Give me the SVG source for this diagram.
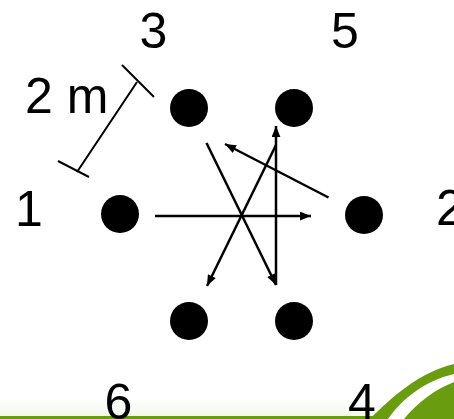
<svg xmlns="http://www.w3.org/2000/svg" width="454" height="419" viewBox="0 0 454 419">
<style>
.lbl{font-family:"Liberation Sans",Arial,sans-serif;font-size:50px;fill:#000}
.dot{fill:#000}
.edge{stroke:#000;stroke-width:2.5;fill:none}
.bar{stroke:#000;stroke-width:2;fill:none}
.grn{fill:#6a9c10}
</style>
<defs>
<marker id="ah" viewBox="0 0 10 8" refX="10" refY="4" markerWidth="11" markerHeight="9" markerUnits="userSpaceOnUse" orient="auto">
<path d="M0,0 L10,4 L0,8 Z" fill="#000"/>
</marker>
<linearGradient id="fade" x1="0" y1="0" x2="0" y2="1">
<stop offset="0" stop-color="#fff"/>
<stop offset="1" stop-color="#f3f7ec"/>
</linearGradient>
</defs>
<rect x="0" y="0" width="454" height="419" fill="#fff"/>
<rect x="0" y="398" width="380" height="19" fill="url(#fade)"/>
<g id="background">
<line x1="0" y1="417.5" x2="376" y2="417.5" stroke="#6a9c10" stroke-width="3"/>
<path class="grn" d="M370 419 C392 397 418 373 454 364 L454 374 C424 381 402 399 388 419 Z"/>
<path class="grn" d="M404 419 C418 402 434 390 454 382 L454 419 Z"/>
</g>
<g id="scale">
<line class="bar" x1="137" y1="82" x2="77" y2="172"/>
<line class="bar" x1="122" y1="65" x2="154" y2="97"/>
<line class="bar" x1="58" y1="161" x2="89" y2="177"/>
<text class="lbl" x="25" y="113">2 m</text>
</g>
<g id="n1"><circle class="dot" cx="120" cy="214" r="19"/><text class="lbl" x="29" y="226" text-anchor="middle">1</text></g>
<g id="n2"><circle class="dot" cx="364" cy="215" r="19"/><text class="lbl" x="436" y="225">2</text></g>
<g id="n3"><circle class="dot" cx="189" cy="108" r="19"/><text class="lbl" x="153.5" y="48" text-anchor="middle">3</text></g>
<g id="n5"><circle class="dot" cx="294" cy="108" r="19"/><text class="lbl" x="345" y="48" text-anchor="middle">5</text></g>
<g id="n6"><circle class="dot" cx="189" cy="321" r="19"/><text class="lbl" x="118.5" y="419" text-anchor="middle">6</text></g>
<g id="n4"><circle class="dot" cx="294" cy="321" r="19"/><text class="lbl" x="362" y="419" text-anchor="middle">4</text></g>
<g id="connectors">
<line class="edge" x1="155" y1="216" x2="311" y2="216" marker-end="url(#ah)"/>
<line class="edge" x1="328.5" y1="197.5" x2="225" y2="144" marker-end="url(#ah)"/>
<line class="edge" x1="206.5" y1="143" x2="276" y2="285" marker-end="url(#ah)"/>
<line class="edge" x1="276" y1="285" x2="276" y2="126" marker-end="url(#ah)"/>
<line class="edge" x1="276" y1="145" x2="207" y2="286" marker-end="url(#ah)"/>
</g>
</svg>
